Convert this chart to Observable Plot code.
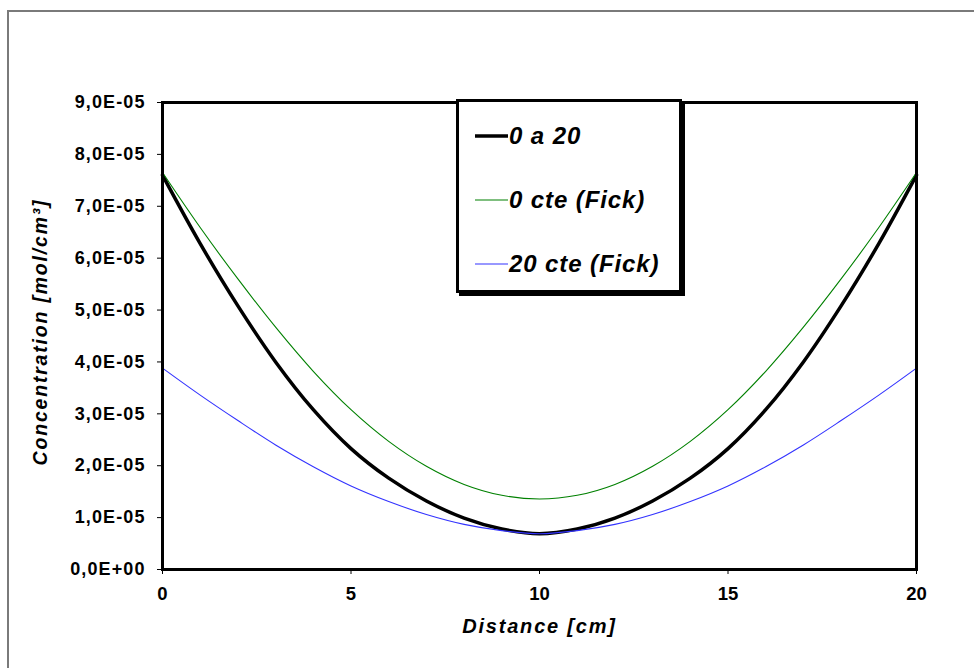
<!DOCTYPE html>
<html>
<head>
<meta charset="utf-8">
<script src="https://cdn.jsdelivr.net/npm/d3@7"></script>
<script src="https://cdn.jsdelivr.net/npm/@observablehq/plot@0.6"></script>
<style>
  html, body { margin: 0; padding: 0; background: #fff; }
  #wrap { position: relative; width: 974px; height: 668px; overflow: hidden; background: #fff; font-family: "Liberation Sans", Arial, sans-serif; }
  #outer { position: absolute; left: 7px; top: 10px; width: 1000px; height: 700px; border-left: 2px solid #7a7a7a; border-top: 2px solid #7a7a7a; box-sizing: border-box; }
  #chart { position: absolute; left: 0; top: 0; }
  #legend { position: absolute; left: 456px; top: 99px; width: 226px; height: 194px; box-sizing: border-box; border: 3px solid #000; background: #fff; box-shadow: 3px 3px 0 #000; }
  .item { position: absolute; left: 16px; height: 30px; display: flex; align-items: center; }
  .item svg { width: 33px; height: 10px; display: block; }
  .item span { font: italic bold 24px "Liberation Sans", Arial, sans-serif; letter-spacing: 0.9px; color: #000; margin-left: 1px; white-space: nowrap; }
</style>
</head>
<body>
<div id="wrap">
  <div id="outer"></div>
  <div id="chart"></div>
  <div id="legend"></div>
</div>
<script>
// ---- data ----
const distance = [0,1,2,3,4,5,6,7,8,9,10,11,12,13,14,15,16,17,18,19,20];
const conc_0a20 = [7.60e-5,6.28e-5,5.08e-5,4.00e-5,3.08e-5,2.33e-5,1.76e-5,1.32e-5,0.99e-5,0.78e-5,0.69e-5,0.78e-5,0.99e-5,1.32e-5,1.76e-5,2.33e-5,3.08e-5,4.00e-5,5.08e-5,6.28e-5,7.60e-5];
const conc_0cte = [7.65e-5,6.59e-5,5.60e-5,4.67e-5,3.82e-5,3.08e-5,2.47e-5,1.99e-5,1.64e-5,1.43e-5,1.36e-5,1.43e-5,1.64e-5,1.99e-5,2.47e-5,3.08e-5,3.82e-5,4.67e-5,5.60e-5,6.59e-5,7.65e-5];
const conc_20cte = [3.88e-5,3.36e-5,2.87e-5,2.40e-5,1.98e-5,1.61e-5,1.31e-5,1.06e-5,0.87e-5,0.75e-5,0.69e-5,0.75e-5,0.87e-5,1.06e-5,1.31e-5,1.61e-5,1.98e-5,2.40e-5,2.87e-5,3.36e-5,3.88e-5];
const seriesNames = ["0 a 20", "0 cte (Fick)", "20 cte (Fick)"];
const seriesColors = ["#000000", "#008000", "#3333ff"];
const seriesWidths = [3.5, 1.1, 1.1];
const xTicks = [0,5,10,15,20];
const yTicks = [0,1e-5,2e-5,3e-5,4e-5,5e-5,6e-5,7e-5,8e-5,9e-5];
const yTickLabels = ["0,0E+00","1,0E-05","2,0E-05","3,0E-05","4,0E-05","5,0E-05","6,0E-05","7,0E-05","8,0E-05","9,0E-05"];
const xTitle = "Distance [cm]";
const yTitle = "Concentration [mol/cm³]";

const seriesValues = [conc_0a20, conc_0cte, conc_20cte];
const rows = [];
seriesValues.forEach((vals, s) => vals.forEach((v, i) => rows.push({series: seriesNames[s], x: distance[i], y: v})));

const lineMarks = seriesNames.map((name, s) =>
  Plot.line(rows.filter(r => r.series === name), {x: "x", y: "y", stroke: seriesColors[s], strokeWidth: seriesWidths[s], curve: "catmull-rom"})
);

const chart = Plot.plot({
  width: 974,
  height: 668,
  marginLeft: 162,
  marginRight: 58,
  marginTop: 102,
  marginBottom: 99,
  style: {background: "transparent", fontFamily: "'Liberation Sans', Arial, sans-serif", color: "#000", overflow: "visible"},
  x: {domain: [0, 20]},
  y: {domain: [0, 9e-5]},
  marks: [
    Plot.axisX({ticks: xTicks, tickSize: 5, tickPadding: 12, label: null, stroke: "#000", fill: "#000"}),
    Plot.axisY({ticks: yTicks, tickFormat: (d) => yTickLabels[yTicks.indexOf(d)], tickSize: 5, tickPadding: 12, label: null, stroke: "#000", fill: "#000"}),
    ...lineMarks,
    Plot.frame({stroke: "#000", strokeWidth: 3}),
    Plot.text([yTitle], {frameAnchor: "left", textAnchor: "middle", dx: -122, dy: -4, rotate: -90, fontSize: 19.5, fontWeight: "bold", fontStyle: "italic", fill: "#000"}),
    Plot.text([xTitle], {frameAnchor: "bottom", textAnchor: "middle", dy: 63, fontSize: 20, fontWeight: "bold", fontStyle: "italic", fill: "#000"})
  ]
});
document.getElementById("chart").appendChild(chart);
const svg = d3.select(chart);
svg.selectAll('g[aria-label="text"] text').style("letter-spacing", "1.8px");
svg.selectAll('g[aria-label="y-axis tick label"]').style("font-size", "18px").style("font-weight", "bold");
svg.selectAll('g[aria-label="y-axis tick label"] text').style("font-size", "18px").style("font-weight", "bold").style("letter-spacing", "1.1px");
svg.selectAll('g[aria-label="x-axis tick label"]').style("font-size", "18.5px").style("font-weight", "bold");
svg.selectAll('g[aria-label="x-axis tick label"] text').style("font-size", "18.5px").style("font-weight", "bold");

// legend
const legend = document.getElementById("legend");
const itemTops = [19, 83, 147];
seriesNames.forEach((name, s) => {
  const it = document.createElement("div");
  it.className = "item";
  it.style.top = itemTops[s] + "px";
  it.innerHTML = `<svg viewBox="0 0 33 10"><line x1="0" y1="5" x2="33" y2="5" stroke="${seriesColors[s]}" stroke-width="${seriesWidths[s] === 3.5 ? 3.5 : 1.2}"/></svg><span>${name}</span>`;
  legend.appendChild(it);
});
</script>
</body>
</html>
